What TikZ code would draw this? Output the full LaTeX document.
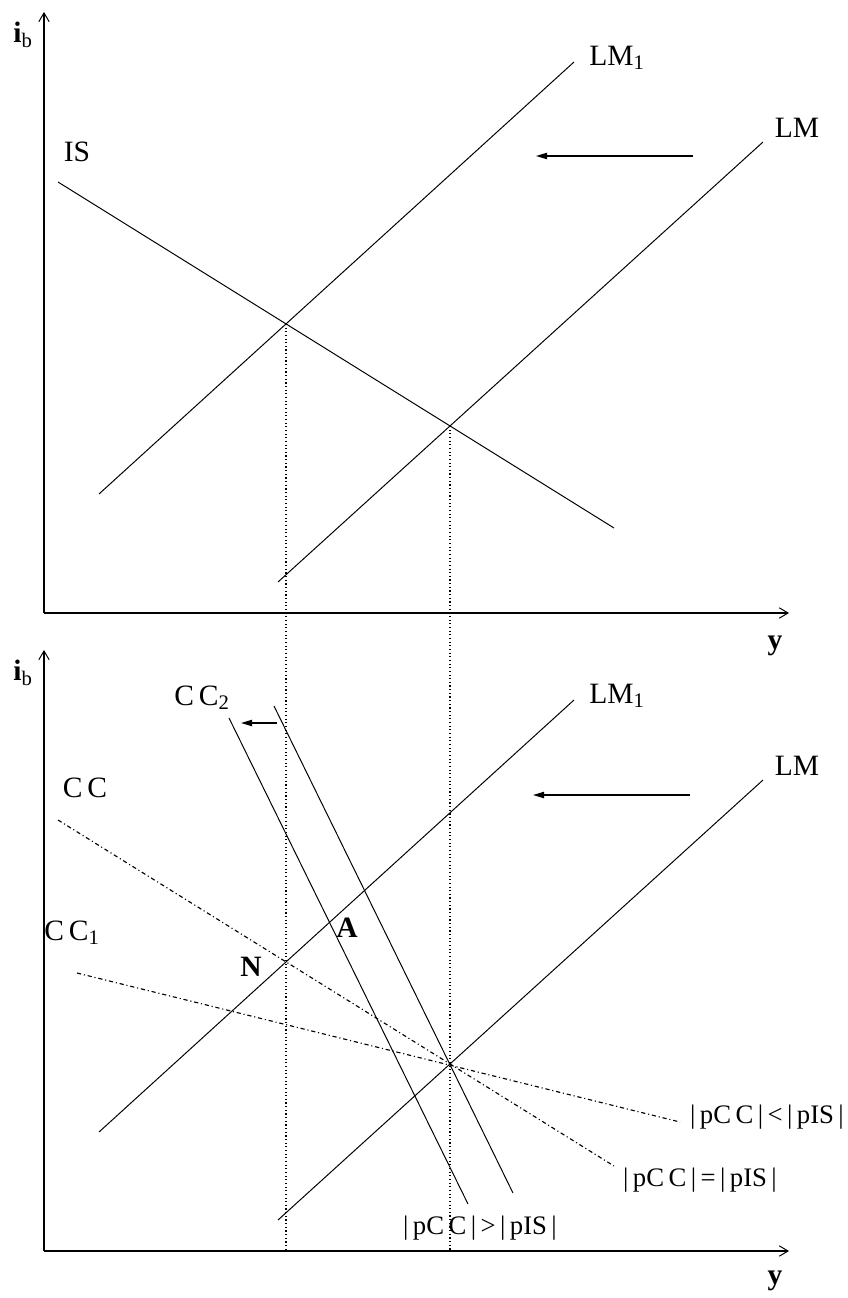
\documentclass[tikz,border=0pt]{standalone}
\usepackage{fontspec}
\setmainfont{Liberation Serif}
\usetikzlibrary{arrows.meta,intersections}
\begin{document}
\begin{tikzpicture}[x=0.25mm,y=-0.25mm,
  axis/.style={line width=1.3pt,-{Straight Barb[length=2.2mm,width=2.6mm,line width=0.7pt]}},
  curve/.style={line width=0.7pt},
  guide/.style={line width=0.8pt,dash pattern=on 0.8pt off 1.8pt},
  dashdot/.style={line width=0.8pt,dash pattern=on 3pt off 2pt on 0.8pt off 2pt},
  shiftarrow/.style={line width=0.9pt,-{Triangle[length=2.8mm,width=1.6mm]}},
  lab/.style={inner sep=0pt,font=\fontsize{21}{25}\selectfont},
  slab/.style={inner sep=0pt,font=\fontsize{19}{23}\selectfont}]
\useasboundingbox (0,0) rectangle (848,1298);
% ---------- top panel ----------
\coordinate (o1) at (44,613);
\coordinate (yt1) at (44,12);
\coordinate (xe1) at (789,613);
\draw[axis] (o1) -- (yt1);
\draw[axis] (o1) -- (xe1);
\coordinate (is1) at (58,182);  \coordinate (is2) at (614,528);
\coordinate (lma1) at (99,494); \coordinate (lma2) at (574,62);
\coordinate (lmb1) at (278,582);\coordinate (lmb2) at (763,142);
\draw[curve,name path=IS] (is1) -- (is2);
\draw[curve,name path=LMone] (lma1) -- (lma2);
\draw[curve,name path=LMtop] (lmb1) -- (lmb2);
\path[name intersections={of=IS and LMone,by=E1}];
\path[name intersections={of=IS and LMtop,by=E2}];
\node[lab] (ib1) at (23,35) {\textbf{i}\textsubscript{b}};
\node[lab] (islab) at (77,152) {IS};
\node[lab] (lm1lab) at (617,58) {LM\textsubscript{1}};
\node[lab] (lmlab) at (797,128) {LM};
\node[lab] (ylab1) at (775,646) {\textbf{y}};
\coordinate (a1s) at (693,156); \coordinate (a1e) at (536,156);
\draw[shiftarrow] (a1s) -- (a1e);
% ---------- bottom panel ----------
\coordinate (o2) at (44,1251);
\coordinate (yt2) at (44,650);
\coordinate (xe2) at (789,1251);
\draw[axis] (o2) -- (yt2);
\draw[axis] (o2) -- (xe2);
\coordinate (lmc1) at (99,1132); \coordinate (lmc2) at (574,700);
\coordinate (lmd1) at (278,1220);\coordinate (lmd2) at (763,780);
\draw[curve] (lmc1) -- (lmc2);
\draw[curve] (lmd1) -- (lmd2);
% vertical guides
\coordinate (g1) at (E1 |- o2);
\coordinate (g2) at (E2 |- o2);
\draw[guide] (E1) -- (g1);
\draw[guide] (E2) -- (g2);
% CC lines
\coordinate (cc1) at (58,820);  \coordinate (cc2) at (614,1166);
\coordinate (cca1) at (77,973); \coordinate (cca2) at (680,1122);
\draw[dashdot] (cc1) -- (cc2);
\draw[dashdot] (cca1) -- (cca2);
\coordinate (ccs1) at (274,706); \coordinate (ccs2) at (513,1193);
\coordinate (ccb1) at (229,718); \coordinate (ccb2) at (468,1204);
\draw[curve] (ccs1) -- (ccs2);
\draw[curve] (ccb1) -- (ccb2);
% labels
\node[lab] (ib2) at (23,673) {\textbf{i}\textsubscript{b}};
\node[lab] (lm1lab2) at (617,696) {LM\textsubscript{1}};
\node[lab] (lmlab2) at (797,766) {LM};
\node[lab] (ylab2) at (775,1281) {\textbf{y}};
\node[lab] (cc2lab) at (202,698) {C\,C\textsubscript{2}};
\node[lab] (cclab) at (85,788) {C\,C};
\node[lab] (cc1lab) at (72,933) {C\,C\textsubscript{1}};
\node[lab] (nlab) at (251,967) {\textbf{N}};
\node[lab] (alab) at (347,928) {\textbf{A}};
\node[slab] (gt) at (480,1228) {|\,pC\,C\,|\,>\,|\,pIS\,|};
\node[slab] (eq) at (700,1180) {|\,pC\,C\,|\,=\,|\,pIS\,|};
\node[slab] (lt) at (767,1117) {|\,pC\,C\,|\,<\,|\,pIS\,|};
\coordinate (a2s) at (690,795); \coordinate (a2e) at (533,795);
\draw[shiftarrow] (a2s) -- (a2e);
\coordinate (a3s) at (277,723); \coordinate (a3e) at (241,723);
\draw[shiftarrow] (a3s) -- (a3e);
\end{tikzpicture}
\end{document}
